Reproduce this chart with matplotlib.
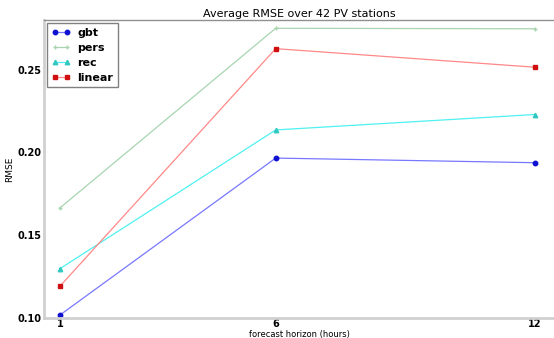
import matplotlib
matplotlib.use("Agg")
import matplotlib.pyplot as plt

horizons = [1, 6, 12]
gbt = [0.1018, 0.1966, 0.1938]
pers = [0.1665, 0.2750, 0.2747]
rec = [0.1298, 0.2136, 0.2229]
linear = [0.1192, 0.2627, 0.2515]
yticks = [0.10, 0.15, 0.20, 0.25]

fig = plt.figure(figsize=(5.54, 3.38), dpi=100)
ax = fig.add_axes([44 / 554, 20 / 338, 1 - 44 / 554, 298 / 338])

ax.plot(horizons, gbt, color="#7878ff", lw=0.9, marker="o", ms=3.2,
        mfc="#1010d0", mec="#1010d0", label="gbt")
ax.plot(horizons, pers, color="#a8d4b0", lw=0.9, marker="+", ms=3,
        mec="#a8d4b0", label="pers")
ax.plot(horizons, rec, color="#50f0f0", lw=0.9, marker="^", ms=3.2,
        mfc="#30c8c0", mec="#30c8c0", label="rec")
ax.plot(horizons, linear, color="#ff8888", lw=0.9, marker="s", ms=3.2,
        mfc="#d01010", mec="#d01010", label="linear")

ax.set_xlim(0.63, 12.45)
ax.set_ylim(0.10, 0.28)
ax.set_xticks(horizons)
ax.set_yticks(yticks)
ax.set_yticklabels(["%.2f" % v for v in yticks])
ax.tick_params(length=0, labelsize=7, pad=2)
ax.tick_params(axis="x", pad=1)
for lab in ax.get_xticklabels() + ax.get_yticklabels():
    lab.set_fontweight("bold")

for side in ["left", "bottom"]:
    ax.spines[side].set_color("#d0d0d0")
    ax.spines[side].set_linewidth(2)
ax.spines["top"].set_color("#909090")
ax.spines["top"].set_linewidth(1)
ax.spines["right"].set_visible(False)

ax.set_title("Average RMSE over 42 PV stations", fontsize=8, pad=2)
ax.set_xlabel("forecast horizon (hours)", fontsize=6, labelpad=0.5)
ax.set_ylabel("RMSE", fontsize=6.5, labelpad=2)

leg = ax.legend(loc="upper left", prop={"weight": "bold", "size": 8},
                numpoints=2, handlelength=1.7, borderaxespad=0.3,
                borderpad=0.4, handletextpad=0.6,
                labelspacing=0.45, fancybox=False, framealpha=1)
leg.get_frame().set_edgecolor("#808080")

fig.savefig("out.png", dpi=100)
